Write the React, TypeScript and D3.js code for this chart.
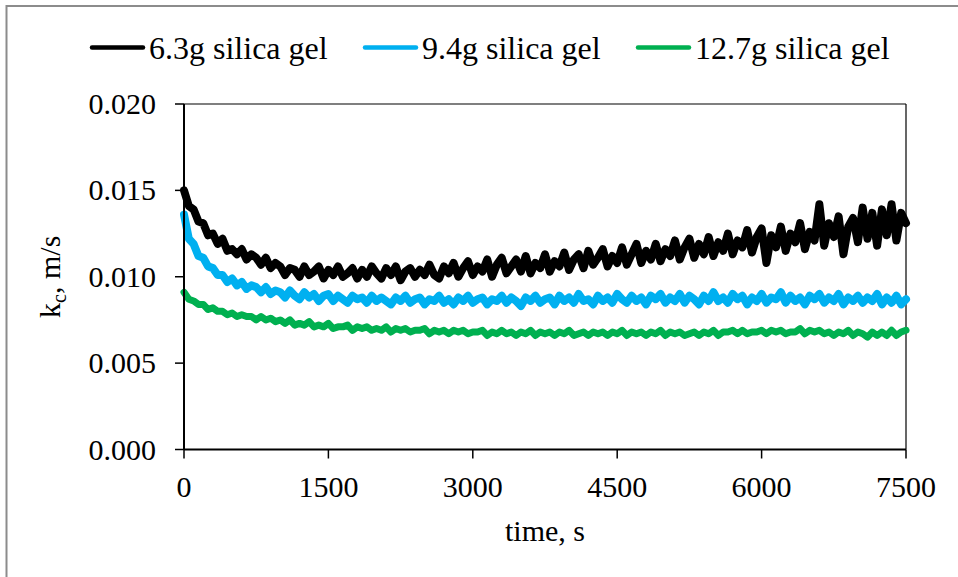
import React from "react";
import * as d3 from "d3";

// Mass transfer coefficient k_c (m/s) logged every 50 s for three silica gel loadings.
const sampleStep = 50;

const kc63g = [
  0.0150, 0.0141, 0.0139, 0.0132, 0.0131, 0.0124, 0.0125, 0.0119, 0.0122, 0.0115,
  0.0116, 0.0113, 0.0116, 0.0110, 0.0113, 0.0111, 0.0107, 0.0111, 0.0105, 0.0108,
  0.0106, 0.0101, 0.0105, 0.0104, 0.0100, 0.0106, 0.0101, 0.0103, 0.0106, 0.0099,
  0.0104, 0.0101, 0.0106, 0.0100, 0.0102, 0.0105, 0.0099, 0.0104, 0.0100, 0.0106,
  0.0102, 0.0099, 0.0105, 0.0101, 0.0106, 0.0098, 0.0103, 0.0105, 0.0100, 0.0104,
  0.0101, 0.0107, 0.0101, 0.0099, 0.0106, 0.0102, 0.0108, 0.0100, 0.0105, 0.0109,
  0.0101, 0.0106, 0.0103, 0.0110, 0.0100, 0.0107, 0.0111, 0.0102, 0.0106, 0.0110,
  0.0103, 0.0112, 0.0102, 0.0108, 0.0105, 0.0113, 0.0103, 0.0109, 0.0106, 0.0114,
  0.0104, 0.0110, 0.0113, 0.0105, 0.0115, 0.0107, 0.0111, 0.0116, 0.0106, 0.0112,
  0.0108, 0.0117, 0.0107, 0.0113, 0.0119, 0.0108, 0.0115, 0.0110, 0.0119, 0.0109,
  0.0116, 0.0112, 0.0121, 0.0110, 0.0117, 0.0122, 0.0111, 0.0119, 0.0113, 0.0123,
  0.0112, 0.0120, 0.0115, 0.0125, 0.0113, 0.0121, 0.0117, 0.0127, 0.0114, 0.0123,
  0.0128, 0.0108, 0.0124, 0.0117, 0.0129, 0.0115, 0.0125, 0.0120, 0.0131, 0.0116,
  0.0126, 0.0121, 0.0142, 0.0118, 0.0131, 0.0123, 0.0135, 0.0113, 0.0129, 0.0134,
  0.0120, 0.0140, 0.0122, 0.0137, 0.0118, 0.0139, 0.0124, 0.0142, 0.0121, 0.0137,
  0.0131,
];

const kc94g = [
  0.0136, 0.0122, 0.0119, 0.0112, 0.0111, 0.0106, 0.0105, 0.0101, 0.0101, 0.0097,
  0.0099, 0.0095, 0.0097, 0.0093, 0.0095, 0.0094, 0.0091, 0.0094, 0.0090, 0.0092,
  0.0091, 0.0088, 0.0092, 0.0089, 0.0087, 0.0091, 0.0088, 0.0090, 0.0086, 0.0089,
  0.0090, 0.0086, 0.0089, 0.0087, 0.0085, 0.0089, 0.0087, 0.0088, 0.0085, 0.0089,
  0.0086, 0.0088, 0.0086, 0.0084, 0.0088, 0.0086, 0.0089, 0.0085, 0.0087, 0.0088,
  0.0084, 0.0087, 0.0086, 0.0089, 0.0085, 0.0087, 0.0084, 0.0088, 0.0086, 0.0089,
  0.0085, 0.0087, 0.0088, 0.0084, 0.0087, 0.0086, 0.0089, 0.0085, 0.0088, 0.0086,
  0.0083, 0.0088, 0.0086, 0.0089, 0.0085, 0.0087, 0.0088, 0.0084, 0.0089, 0.0086,
  0.0088, 0.0085, 0.0090, 0.0086, 0.0087, 0.0084, 0.0089, 0.0086, 0.0088, 0.0085,
  0.0090, 0.0087, 0.0085, 0.0089, 0.0086, 0.0088, 0.0084, 0.0089, 0.0087, 0.0090,
  0.0085, 0.0088, 0.0086, 0.0090, 0.0085, 0.0089, 0.0087, 0.0084, 0.0089, 0.0086,
  0.0091, 0.0086, 0.0088, 0.0085, 0.0090, 0.0087, 0.0089, 0.0084, 0.0088, 0.0086,
  0.0090, 0.0085, 0.0088, 0.0087, 0.0091, 0.0085, 0.0089, 0.0086, 0.0088, 0.0084,
  0.0089, 0.0087, 0.0090, 0.0085, 0.0088, 0.0086, 0.0090, 0.0084, 0.0088, 0.0086,
  0.0089, 0.0085, 0.0088, 0.0086, 0.0090, 0.0084, 0.0088, 0.0085, 0.0089, 0.0084,
  0.0087,
];

const kc127g = [
  0.0091, 0.0087, 0.0086, 0.0084, 0.0084, 0.0081, 0.0082, 0.0080, 0.0080, 0.0078,
  0.0079, 0.0077, 0.0078, 0.0077, 0.0077, 0.0075, 0.0077, 0.0075, 0.0076, 0.0074,
  0.0075, 0.0073, 0.0075, 0.0072, 0.0073, 0.0072, 0.0074, 0.0071, 0.0072, 0.0071,
  0.0073, 0.0070, 0.0071, 0.0071, 0.0072, 0.0069, 0.0071, 0.0070, 0.0071, 0.0069,
  0.0070, 0.0069, 0.0071, 0.0068, 0.0070, 0.0069, 0.0070, 0.0068, 0.0069, 0.0069,
  0.0070, 0.0067, 0.0069, 0.0068, 0.0069, 0.0067, 0.0069, 0.0068, 0.0069, 0.0067,
  0.0068, 0.0068, 0.0069, 0.0066, 0.0068, 0.0067, 0.0069, 0.0067, 0.0068, 0.0066,
  0.0068, 0.0067, 0.0069, 0.0066, 0.0068, 0.0067, 0.0068, 0.0066, 0.0068, 0.0067,
  0.0069, 0.0066, 0.0067, 0.0068, 0.0066, 0.0068, 0.0067, 0.0068, 0.0066, 0.0068,
  0.0067, 0.0069, 0.0066, 0.0068, 0.0067, 0.0068, 0.0066, 0.0068, 0.0067, 0.0069,
  0.0066, 0.0068, 0.0067, 0.0068, 0.0066, 0.0067, 0.0068, 0.0066, 0.0068, 0.0067,
  0.0069, 0.0066, 0.0068, 0.0068, 0.0069, 0.0067, 0.0069, 0.0067, 0.0068, 0.0068,
  0.0069, 0.0067, 0.0069, 0.0068, 0.0069, 0.0067, 0.0068, 0.0068, 0.0070, 0.0067,
  0.0069, 0.0068, 0.0069, 0.0067, 0.0068, 0.0066, 0.0068, 0.0067, 0.0069, 0.0066,
  0.0068, 0.0067, 0.0065, 0.0068, 0.0066, 0.0068, 0.0066, 0.0069, 0.0066, 0.0068,
  0.0069,
];

const seriesNames = ["6.3g silica gel", "9.4g silica gel", "12.7g silica gel"];
const seriesValues = [kc63g, kc94g, kc127g];
const seriesColors = ["#000000", "#00B0F0", "#00B050"];
const seriesWidths = [8, 8, 7];

const xTicks = [0, 1500, 3000, 4500, 6000, 7500];
const yTicks = [0, 0.005, 0.01, 0.015, 0.02];

const W = 958;
const H = 577;
const plot = { left: 184, right: 906, top: 104, bottom: 449.5 };
const FONT = "'Liberation Serif', 'Times New Roman', serif";

export default function App() {
  const x = d3.scaleLinear().domain([0, 7500]).range([plot.left, plot.right]);
  const y = d3.scaleLinear().domain([0, 0.02]).range([plot.bottom, plot.top]);
  const fmtY = d3.format(".3f");

  const line = d3
    .line<number>()
    .x((_, i) => x(i * sampleStep))
    .y((d) => y(d));

  const legendLineStart = [92, 365, 638];
  const legendLineLen = 51;

  return (
    <svg
      width={W}
      height={H}
      viewBox={`0 0 ${W} ${H}`}
      style={{ position: "absolute", left: 0, top: 0, background: "#fff" }}
      fontFamily={FONT}
    >
      <rect x={0} y={0} width={W} height={H} fill="#fff" />
      {/* chart frame */}
      <rect x={6.5} y={6} width={W + 10} height={H + 10} fill="none" stroke="#8c8c8c" strokeWidth={2} />

      {/* legend */}
      {seriesNames.map((name, i) => (
        <g key={name}>
          <line
            x1={legendLineStart[i]}
            x2={legendLineStart[i] + legendLineLen}
            y1={47.5}
            y2={47.5}
            stroke={seriesColors[i]}
            strokeWidth={4.5}
            strokeLinecap="round"
          />
          <text x={legendLineStart[i] + legendLineLen + 6} y={59} fontSize={32} fill="#000">
            {name}
          </text>
        </g>
      ))}

      {/* plot border (top/right) */}
      <line x1={plot.left} x2={plot.right} y1={plot.top} y2={plot.top} stroke="#000" strokeWidth={1.2} />
      <line x1={plot.right} x2={plot.right} y1={plot.top} y2={plot.bottom} stroke="#000" strokeWidth={1.2} />

      {/* series */}
      {seriesValues.map((vals, i) => (
        <path
          key={seriesNames[i]}
          d={line(vals) ?? ""}
          fill="none"
          stroke={seriesColors[i]}
          strokeWidth={seriesWidths[i]}
          strokeLinejoin="round"
          strokeLinecap="round"
        />
      ))}

      {/* y axis */}
      <line x1={plot.left} x2={plot.left} y1={plot.top} y2={plot.bottom} stroke="#000" strokeWidth={2} />
      {yTicks.map((t) => (
        <g key={t}>
          <line x1={plot.left - 9} x2={plot.left} y1={y(t)} y2={y(t)} stroke="#000" strokeWidth={1.5} />
          <text x={plot.left - 28} y={y(t) + 10} fontSize={30} textAnchor="end" fill="#000">
            {fmtY(t)}
          </text>
        </g>
      ))}

      {/* x axis */}
      <line x1={plot.left} x2={plot.right} y1={plot.bottom} y2={plot.bottom} stroke="#000" strokeWidth={2} />
      {xTicks.map((t) => (
        <g key={t}>
          <line x1={x(t)} x2={x(t)} y1={plot.bottom} y2={plot.bottom + 9} stroke="#000" strokeWidth={1.5} />
          <text x={x(t)} y={497} fontSize={30} textAnchor="middle" fill="#000">
            {t}
          </text>
        </g>
      ))}

      {/* axis titles */}
      <text x={(plot.left + plot.right) / 2} y={541} fontSize={30} textAnchor="middle" fill="#000">
        time, s
      </text>
      <text
        transform={`translate(60, ${(plot.top + plot.bottom) / 2}) rotate(-90)`}
        fontSize={30}
        textAnchor="middle"
        fill="#000"
      >
        k<tspan fontSize={20} dy={6}>c</tspan>
        <tspan dy={-6}>, m/s</tspan>
      </text>
    </svg>
  );
}
